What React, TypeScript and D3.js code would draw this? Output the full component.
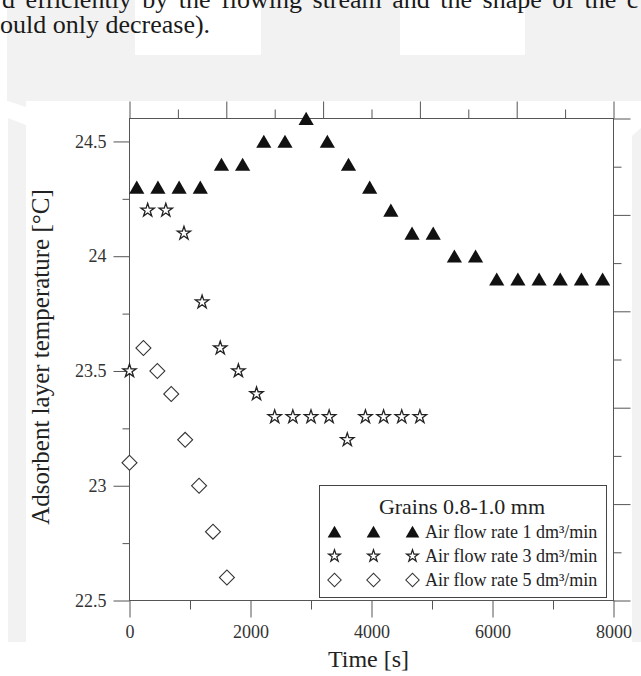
import React, { useEffect, useRef } from 'react';
import * as d3 from 'd3';

// Grains 0.8-1.0 mm, air flow rate 1 dm3/min
const timeFlow1 = [120, 470, 820, 1170, 1520, 1870, 2220, 2570, 2920, 3270, 3620, 3970, 4320, 4670, 5020, 5370, 5720, 6070, 6420, 6770, 7120, 7470, 7820];
const tempFlow1 = [24.3, 24.3, 24.3, 24.3, 24.4, 24.4, 24.5, 24.5, 24.6, 24.5, 24.4, 24.3, 24.2, 24.1, 24.1, 24.0, 24.0, 23.9, 23.9, 23.9, 23.9, 23.9, 23.9];

// air flow rate 3 dm3/min
const timeFlow3 = [0, 300, 600, 900, 1200, 1500, 1800, 2100, 2400, 2700, 3000, 3300, 3600, 3900, 4200, 4500, 4800];
const tempFlow3 = [23.5, 24.2, 24.2, 24.1, 23.8, 23.6, 23.5, 23.4, 23.3, 23.3, 23.3, 23.3, 23.2, 23.3, 23.3, 23.3, 23.3];

// air flow rate 5 dm3/min
const timeFlow5 = [0, 230, 460, 690, 920, 1150, 1380, 1610];
const tempFlow5 = [23.1, 23.6, 23.5, 23.4, 23.2, 23.0, 22.8, 22.6];

const legendTitle = 'Grains 0.8-1.0 mm';
const legendLabels = ['Air flow rate 1 dm³/min', 'Air flow rate 3 dm³/min', 'Air flow rate 5 dm³/min'];

// axis ticks
const bottomMajor = [0, 2000, 4000, 6000, 8000];
const bottomMinor = [1000, 3000, 5000, 7000];
const leftMajor = [22.5, 23, 23.5, 24, 24.5];
const leftMinor = [22.75, 23.25, 23.75, 24.25];
const topLong = [0, 1600, 3200, 4800, 6400, 8000];
const topShort = [800, 2400, 4000, 5600, 7200];
const rightLong = [22.5, 22.92, 23.34, 23.76, 24.18, 24.6];
const rightShort = [22.71, 23.13, 23.55, 23.97, 24.39];

const pageText = ['d efficiently by the flowing stream and the shape of the c', 'ould only decrease).'];

const W = 641;
const H = 676;
const serif = "'Liberation Serif', 'Times New Roman', serif";

const App = () => {
  const svgRef = useRef<SVGSVGElement | null>(null);

  useEffect(() => {
    if (!svgRef.current) return;
    const svg = d3.select(svgRef.current);
    svg.selectAll('*').remove();
    drawChart(svg);
  }, []);

  const drawChart = (svg: d3.Selection<SVGSVGElement, unknown, null, undefined>) => {
    // scanned page background
    svg.append('rect').attr('width', W).attr('height', H).attr('fill', '#fff');
    const gray = '#f2f2f2';
    svg.append('rect').attr('x', 7).attr('y', 0).attr('width', W - 7).attr('height', 101).attr('fill', gray);
    svg.append('rect').attr('x', 135).attr('y', 0).attr('width', 126).attr('height', 55).attr('fill', '#fff');
    svg.append('rect').attr('x', 400).attr('y', 0).attr('width', 125).attr('height', 55).attr('fill', '#fff');
    svg.append('polygon').attr('points', '8,101 26,101 26,107').attr('fill', gray);
    svg.append('polygon').attr('points', '8,118 26,125 26,642 8,642').attr('fill', gray);
    svg.append('polygon').attr('points', '632,136 641,128 641,642 632,642').attr('fill', gray);

    svg.append('text')
      .attr('x', 2).attr('y', 8)
      .attr('font-family', serif).attr('font-size', 26).attr('word-spacing', 4)
      .attr('fill', '#1a1a1a')
      .text(pageText[0]);
    svg.append('text')
      .attr('x', 0).attr('y', 33)
      .attr('font-family', serif).attr('font-size', 26)
      .attr('fill', '#1a1a1a')
      .text(pageText[1]);

    // scales
    const x = d3.scaleLinear().domain([0, 8000]).range([129.5, 613.5]);
    const y = d3.scaleLinear().domain([22.5, 24.6]).range([600.5, 118.5]);

    const axisColor = '#555';
    const styleAxis = (g: d3.Selection<SVGGElement, unknown, null, undefined>) => {
      g.select('.domain').remove();
      g.attr('font-family', serif).attr('font-size', 18);
      g.selectAll('line').attr('stroke', axisColor);
      g.selectAll('text').attr('fill', '#333');
    };

    const axes = svg.append('g');
    axes.append('g').attr('transform', `translate(0,${y(22.5)})`)
      .call(d3.axisBottom(x).tickValues(bottomMajor).tickSize(17).tickPadding(8).tickFormat(d => String(d)))
      .call(styleAxis);
    axes.append('g').attr('transform', `translate(0,${y(22.5)})`)
      .call(d3.axisBottom(x).tickValues(bottomMinor).tickSize(9).tickFormat(() => ''))
      .call(styleAxis);
    axes.append('g').attr('transform', `translate(${x(0)},0)`)
      .call(d3.axisLeft(y).tickValues(leftMajor).tickSize(16).tickPadding(7).tickFormat(d => String(d)))
      .call(styleAxis);
    axes.append('g').attr('transform', `translate(${x(0)},0)`)
      .call(d3.axisLeft(y).tickValues(leftMinor).tickSize(7).tickFormat(() => ''))
      .call(styleAxis);
    axes.append('g').attr('transform', `translate(0,${y(24.6)})`)
      .call(d3.axisTop(x).tickValues(topLong).tickSize(17).tickFormat(() => ''))
      .call(styleAxis);
    axes.append('g').attr('transform', `translate(0,${y(24.6)})`)
      .call(d3.axisTop(x).tickValues(topShort).tickSize(9).tickFormat(() => ''))
      .call(styleAxis);
    axes.append('g').attr('transform', `translate(${x(8000)},0)`)
      .call(d3.axisRight(y).tickValues(rightLong).tickSize(17).tickFormat(() => ''))
      .call(styleAxis);
    axes.append('g').attr('transform', `translate(${x(8000)},0)`)
      .call(d3.axisRight(y).tickValues(rightShort).tickSize(8).tickFormat(() => ''))
      .call(styleAxis);

    // frame
    axes.append('rect')
      .attr('x', x(0)).attr('y', y(24.6))
      .attr('width', x(8000) - x(0)).attr('height', y(22.5) - y(24.6))
      .attr('fill', 'none').attr('stroke', axisColor).attr('stroke-width', 1);

    // axis titles
    svg.append('text')
      .attr('x', (x(0) + x(8000)) / 2 - 3).attr('y', 667)
      .attr('text-anchor', 'middle')
      .attr('font-family', serif).attr('font-size', 24).attr('fill', '#222')
      .text('Time [s]');
    svg.append('text')
      .attr('transform', 'translate(49,357) rotate(-90)')
      .attr('text-anchor', 'middle')
      .attr('font-family', serif).attr('font-size', 25).attr('fill', '#222')
      .text('Adsorbent layer temperature [°C]');

    // marker shapes
    const triPath = d3.symbol().type(d3.symbolTriangle).size(100)() as string;
    const starPath = d3.symbol().type(d3.symbolStar).size(55)() as string;
    const diaPath = d3.symbol().type(d3.symbolSquare).size(112)() as string;

    const marks = [
      { pts: d3.zip(timeFlow1, tempFlow1), d: triPath, fill: '#111', stroke: 'none', sw: 0, rot: 0, dy: 2 },
      { pts: d3.zip(timeFlow3, tempFlow3), d: starPath, fill: '#fff', stroke: '#222', sw: 1.3, rot: 0, dy: 0 },
      { pts: d3.zip(timeFlow5, tempFlow5), d: diaPath, fill: '#fff', stroke: '#333', sw: 1.1, rot: 45, dy: 0 },
    ];

    marks.forEach(m => {
      svg.append('g').selectAll('path')
        .data(m.pts)
        .enter()
        .append('path')
        .attr('d', m.d)
        .attr('transform', d => `translate(${x(d[0])},${y(d[1]) + m.dy}) rotate(${m.rot})`)
        .attr('fill', m.fill)
        .attr('stroke', m.stroke)
        .attr('stroke-width', m.sw);
    });

    // legend
    const legend = svg.append('g');
    legend.append('rect')
      .attr('x', 319.5).attr('y', 485.5).attr('width', 287).attr('height', 112)
      .attr('fill', '#fff').attr('stroke', '#444').attr('stroke-width', 1);
    legend.append('text')
      .attr('x', 462).attr('y', 514)
      .attr('text-anchor', 'middle')
      .attr('font-family', serif).attr('font-size', 22).attr('fill', '#222')
      .text(legendTitle);

    const symX = [334.5, 373.5, 412.5];
    marks.forEach((m, i) => {
      const rowY = 532 + i * 24;
      symX.forEach(sx => {
        legend.append('path')
          .attr('d', m.d)
          .attr('transform', `translate(${sx},${rowY + m.dy * 0.8}) rotate(${m.rot}) scale(0.9)`)
          .attr('fill', m.fill)
          .attr('stroke', m.stroke)
          .attr('stroke-width', m.sw);
      });
      legend.append('text')
        .attr('x', 425).attr('y', rowY)
        .attr('dy', '0.35em')
        .attr('font-family', serif).attr('font-size', 18).attr('fill', '#222')
        .text(legendLabels[i]);
    });
  };

  return (
    <svg
      ref={svgRef}
      width={W}
      height={H}
      style={{ position: 'absolute', left: 0, top: 0, display: 'block' }}
    />
  );
};

export default App;
